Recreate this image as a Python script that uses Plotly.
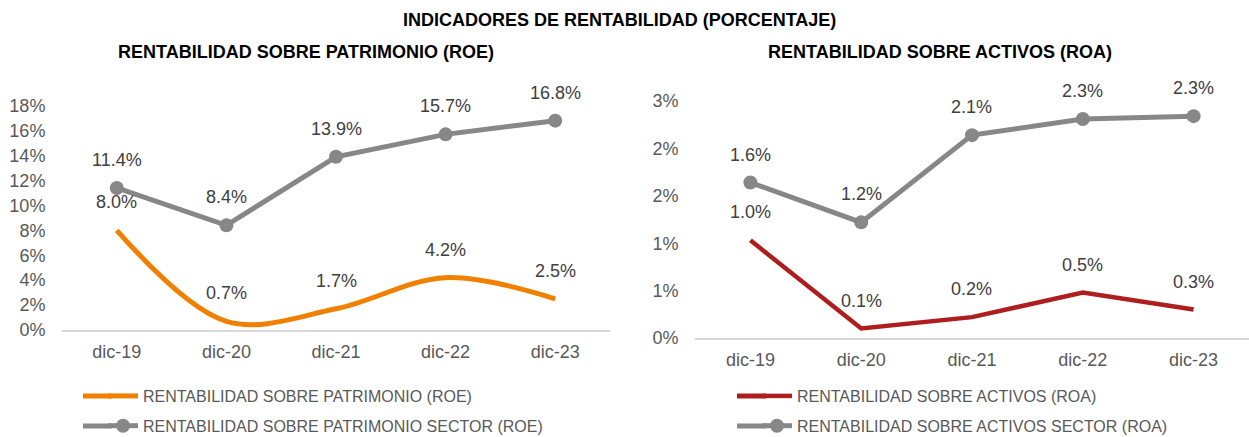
import plotly.graph_objects as go

categories = ["dic-19", "dic-20", "dic-21", "dic-22", "dic-23"]
roe_company = [8.0, 0.7, 1.7, 4.2, 2.5]
roe_sector = [11.4, 8.4, 13.9, 15.7, 16.8]
roa_company = [1.03, 0.10, 0.22, 0.48, 0.30]
roa_sector = [1.64, 1.22, 2.14, 2.31, 2.34]

roe_tickvals = [0, 2, 4, 6, 8, 10, 12, 14, 16, 18]
roe_ticktext = ["0%", "2%", "4%", "6%", "8%", "10%", "12%", "14%", "16%", "18%"]
roa_tickvals = [0, 0.5, 1.0, 1.5, 2.0, 2.5]
roa_ticktext = ["0%", "1%", "1%", "2%", "2%", "3%"]

FONT = "Arial, Liberation Sans, sans-serif"
ORANGE = "#F08000"
RED = "#AF1E1E"
GRAY = "#878787"
TXT = "#595959"
LBL = "#404040"

W, H = 1249, 437

fig = go.Figure()

fig.add_trace(go.Scatter(
    x=categories, y=roe_company, mode="lines", name="RENTABILIDAD SOBRE PATRIMONIO (ROE)",
    line=dict(color=ORANGE, width=5, shape="spline", smoothing=1.0),
    xaxis="x", yaxis="y", legend="legend", legendgroup="a", hoverinfo="skip"))
fig.add_trace(go.Scatter(
    x=categories, y=roe_sector, mode="lines+markers", name="RENTABILIDAD SOBRE PATRIMONIO SECTOR (ROE)",
    line=dict(color=GRAY, width=5), marker=dict(color=GRAY, size=14),
    xaxis="x", yaxis="y", legend="legend", legendgroup="b", hoverinfo="skip"))
fig.add_trace(go.Scatter(
    x=categories, y=roa_company, mode="lines", name="RENTABILIDAD SOBRE ACTIVOS (ROA)",
    line=dict(color=RED, width=4.5),
    xaxis="x2", yaxis="y2", legend="legend2", legendgroup="c", hoverinfo="skip"))
fig.add_trace(go.Scatter(
    x=categories, y=roa_sector, mode="lines+markers", name="RENTABILIDAD SOBRE ACTIVOS SECTOR (ROA)",
    line=dict(color=GRAY, width=5), marker=dict(color=GRAY, size=14),
    xaxis="x2", yaxis="y2", legend="legend2", legendgroup="d", hoverinfo="skip"))

annotations = []
for xref, yref, series in [("x", "y", roe_company), ("x", "y", roe_sector),
                           ("x2", "y2", roa_company), ("x2", "y2", roa_sector)]:
    for c, v in zip(categories, series):
        annotations.append(dict(
            x=c, y=v, xref=xref, yref=yref, text=f"{v:.1f}%", showarrow=False,
            xanchor="center", yanchor="middle",
            yshift=28, font=dict(family=FONT, size=18, color=LBL)))

for xp, yp, txt in [(619, 20, "INDICADORES DE RENTABILIDAD (PORCENTAJE)"),
                    (306, 52, "RENTABILIDAD SOBRE PATRIMONIO (ROE)"),
                    (940, 52, "RENTABILIDAD SOBRE ACTIVOS (ROA)")]:
    annotations.append(dict(x=xp / W, y=1 - yp / H, xref="paper", yref="paper",
                            xanchor="center", yanchor="middle",
                            text=f"<b>{txt}</b>", showarrow=False,
                            font=dict(family=FONT, size=18, color="#000000")))

# longer legend key lines (extend plotly's short legend symbols to the left)
shapes = []
for x0, x1, yp, col in [(83, 112, 396, ORANGE), (83, 112, 426, GRAY),
                        (737, 766, 396, RED), (737, 766, 426, GRAY)]:
    shapes.append(dict(type="line", xref="paper", yref="paper",
                       x0=x0 / W, x1=x1 / W, y0=1 - yp / H, y1=1 - yp / H,
                       line=dict(color=col, width=5)))

xaxis_common = dict(type="category", range=[-0.5, 4.5], showgrid=False, zeroline=False,
                    showline=True, linecolor="#D9D9D9", linewidth=1.5,
                    ticks="outside", ticklen=5, tickcolor="rgba(0,0,0,0)",
                    tickfont=dict(family=FONT, size=18, color=TXT), fixedrange=True)
yaxis_common = dict(showgrid=False, zeroline=False, showline=False,
                    ticks="outside", ticklen=12, tickcolor="rgba(0,0,0,0)",
                    tickfont=dict(family=FONT, size=18, color=TXT), fixedrange=True)

fig.update_layout(
    width=W, height=H,
    margin=dict(l=0, r=0, t=0, b=0, autoexpand=False),
    paper_bgcolor="white", plot_bgcolor="white",
    showlegend=True,
    xaxis=dict(domain=[62 / W, 610 / W], anchor="y", **xaxis_common),
    yaxis=dict(domain=[(H - 330) / H, (H - 105.7) / H], anchor="x", range=[0, 18],
               tickvals=roe_tickvals, ticktext=roe_ticktext, **yaxis_common),
    xaxis2=dict(domain=[695 / W, 1.0], anchor="y2", **xaxis_common),
    yaxis2=dict(domain=[(H - 338) / H, (H - 101) / H], anchor="x2", range=[0, 2.5],
                tickvals=roa_tickvals, ticktext=roa_ticktext, **yaxis_common),
    legend=dict(x=103 / W, y=1 - 379 / H, xanchor="left", yanchor="top",
                font=dict(family=FONT, size=16, color=TXT), bgcolor="rgba(0,0,0,0)",
                tracegroupgap=6, orientation="v"),
    legend2=dict(x=757 / W, y=1 - 379 / H, xanchor="left", yanchor="top",
                 font=dict(family=FONT, size=16, color=TXT), bgcolor="rgba(0,0,0,0)",
                 tracegroupgap=6, orientation="v"),
    annotations=annotations,
    shapes=shapes,
)

fig.write_html("out.html", config={"displayModeBar": False},
               post_script="document.body.style.margin='0';document.body.style.overflow='hidden';")
